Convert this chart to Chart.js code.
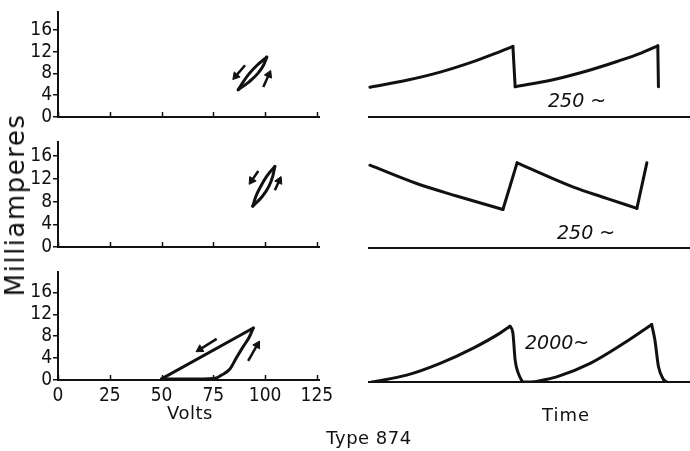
<!DOCTYPE html>
<html><head><meta charset="utf-8">
<script src="https://cdn.jsdelivr.net/npm/chart.js@4"></script>
<style>
html,body{margin:0;padding:0;background:#fff;}
#wrap{position:relative;width:690px;height:451px;overflow:hidden;background:#fff;}
canvas{position:absolute;}
.t{position:absolute;font-family:"DejaVu Sans",sans-serif;color:#111;white-space:nowrap;line-height:1;transform:translate(-50%,-50%);}
.f{position:absolute;font-family:"DejaVu Sans",sans-serif;font-style:italic;color:#111;white-space:nowrap;line-height:1;transform:translateY(-50%);font-size:19px;}
</style></head><body>
<div id="wrap"></div>
<script>
// ---- tick labels / text ----
const voltTicks = [0, 25, 50, 75, 100, 125];
const mATicks = [0, 4, 8, 12, 16];
const freqLabels = ['250 ~', '250 ~', '2000~'];

// ---- left column: current (mA) vs volts, hysteresis loops ----
// each loop as two branches, both listed with rising volts
const loop1UpV   = [87.0, 92.4, 96.5, 99.2, 100.8];   // rising branch (right)
const loop1UpMA  = [5.0, 6.5, 8.0, 9.5, 11.0];
const loop1DnV   = [87.0, 89.5, 92.4, 96.1, 100.8];   // falling branch (left)
const loop1DnMA  = [5.0, 6.5, 8.0, 9.5, 11.0];
const loop2UpV   = [94.0, 98.6, 101.8, 103.7, 104.7];
const loop2UpMA  = [7.2, 8.9, 10.7, 12.5, 14.2];
const loop2DnV   = [94.0, 95.5, 97.9, 100.8, 104.7];
const loop2DnMA  = [7.2, 8.9, 10.7, 12.5, 14.2];
const loop3UpV   = [50, 60, 70, 75.8, 79, 83, 86.2, 89.4, 92.3, 94.3];
const loop3UpMA  = [0.2, 0.2, 0.2, 0.3, 0.9, 2.0, 4.1, 6.1, 7.8, 9.5];
const loop3DnV   = [50, 94.3];
const loop3DnMA  = [0.2, 9.5];
// direction arrows: [fromV, fromMA, toV, toMA]
const arrows1 = [[90.3, 9.5, 85.8, 7.5], [99.1, 5.5, 101.8, 7.8]];
const arrows2 = [[96.7, 13.4, 93.5, 11.7], [104.7, 10.0, 106.8, 11.7]];
const arrows3 = [[76.6, 7.5, 68.5, 5.6], [91.8, 3.5, 96.2, 6.4]];

// ---- right column: current (mA) vs time (arbitrary units) ----
const wave1T  = [0.6, 12, 22.4, 32.7, 40, 45, 45.7, 57.1, 67.4, 77.8, 85, 90, 90.2];
const wave1mA = [5.1, 6.3, 7.7, 9.5, 11.0, 12.1, 5.2, 6.35, 7.8, 9.6, 11.0, 12.2, 5.2];
const wave2T  = [0.6, 15.1, 27.5, 41.9, 46.3, 63.8, 74.1, 83.5, 86.6];
const wave2mA = [14.0, 10.9, 8.8, 6.5, 14.4, 10.3, 8.4, 6.7, 14.4];
const wave3T  = [1.2, 12, 22.4, 32.7, 41, 44.1, 45, 45.7, 46.7, 48, 51.3, 58.6, 69, 79.3, 88.1, 89.1, 90.2, 91.7, 92.8];
const wave3mA = [0, 1.2, 3.25, 5.9, 8.5, 9.7, 8.5, 3.8, 1.5, 0, 0, 0.9, 3.25, 6.7, 10.0, 7.3, 2.7, 0.5, 0];

const INK = '#111';
const pts = (xs, ys) => xs.map((x, i) => ({x: x, y: ys[i]}));

// split a trace into runs that are monotone in y (shared end points)
function runs(xs, ys) {
  const out = []; let cur = [{x: xs[0], y: ys[0]}]; let sign = 0;
  for (let i = 1; i < xs.length; i++) {
    const s = Math.sign(ys[i] - ys[i - 1]);
    if (cur.length > 1 && s !== sign) { out.push(cur); cur = [{x: xs[i - 1], y: ys[i - 1]}]; }
    sign = s; cur.push({x: xs[i], y: ys[i]});
  }
  out.push(cur);
  return out;
}
function lineDs(data) {
  return {data: data, borderColor: INK, borderWidth: 3, pointRadius: 0, fill: false,
          cubicInterpolationMode: 'monotone', borderCapStyle: 'round', borderJoinStyle: 'round'};
}
function traceDs(xs, ys) { return runs(xs, ys).map(lineDs); }
function arrowDs(a) {
  return {
    data: [{x: a[0], y: a[1]}, {x: a[2], y: a[3]}],
    borderColor: INK, borderWidth: 2.5, fill: false, tension: 0,
    pointStyle: 'triangle', pointBackgroundColor: INK, pointBorderColor: INK, pointBorderWidth: 1,
    pointRadius: c => c.dataIndex === 1 ? 4.5 : 0,
    rotation: c => {
      try {
        const d = c.dataset.data, xs = c.chart.scales.x, ys = c.chart.scales.y;
        const dx = xs.getPixelForValue(d[1].x) - xs.getPixelForValue(d[0].x);
        const dy = ys.getPixelForValue(d[1].y) - ys.getPixelForValue(d[0].y);
        return Math.atan2(dx, -dy) * 180 / Math.PI;
      } catch (e) { return 0; }
    }
  };
}

// tick marks on the x axis that point up into the plot, as in the original
const innerTicks = {
  id: 'innerTicks',
  afterDraw(chart) {
    const s = chart.scales.x; if (!s || !chart.options.innerTicks) return;
    const ctx = chart.ctx; ctx.save();
    ctx.strokeStyle = INK; ctx.lineWidth = 1.5;
    s.ticks.forEach(t => {
      const px = Math.round(s.getPixelForValue(t.value)) + 0.5;
      ctx.beginPath(); ctx.moveTo(px, s.top); ctx.lineTo(px, s.top - 5); ctx.stroke();
    });
    ctx.restore();
  }
};

const wrap = document.getElementById('wrap');
function mkCanvas(left, top, w, h) {
  const c = document.createElement('canvas');
  c.width = w; c.height = h;
  c.style.left = left + 'px'; c.style.top = top + 'px';
  c.style.width = w + 'px'; c.style.height = h + 'px';
  wrap.appendChild(c);
  return c;
}
function addText(cls, txt, x, y, style) {
  const d = document.createElement('div');
  d.className = cls; d.textContent = txt;
  d.style.left = x + 'px'; d.style.top = y + 'px';
  if (style) Object.assign(d.style, style);
  wrap.appendChild(d);
}

const tickFont = {family: '"Liberation Sans Narrow","DejaVu Sans Condensed","Liberation Sans",sans-serif', size: 19};

function leftChart(top, h, padTop, axisH, ymax, datasets, showXLabels) {
  const cv = mkCanvas(0, top, 340, h);
  return new Chart(cv, {
    type: 'line',
    data: {datasets: datasets},
    plugins: [innerTicks],
    options: {
      innerTicks: true,
      responsive: false, animation: false, events: [],
      layout: {padding: {top: padTop, right: 21, left: 0, bottom: 0}},
      plugins: {legend: {display: false}, tooltip: {enabled: false}},
      scales: {
        x: {type: 'linear', min: voltTicks[0], max: 126,
            afterBuildTicks: s => { s.ticks = voltTicks.map(v => ({value: v})); },
            afterFit: s => { s.height = axisH; },
            grid: {drawOnChartArea: false, drawTicks: false},
            border: {display: true, color: INK, width: 2},
            ticks: {display: showXLabels, color: INK, font: tickFont, padding: 5, maxRotation: 0, autoSkip: false}},
        y: {type: 'linear', min: 0, max: ymax,
            afterBuildTicks: s => { s.ticks = mATicks.map(v => ({value: v})); },
            afterFit: s => { s.width = 58; },
            grid: {drawOnChartArea: false, drawTicks: true, tickLength: 5, color: INK, lineWidth: 1.5},
            border: {display: true, color: INK, width: 2},
            ticks: {color: INK, font: tickFont, padding: 1, autoSkip: false}}
      }
    }
  });
}
function rightChart(top, h, padTop, axisH, ymax, datasets) {
  const cv = mkCanvas(368, top, 322, h);
  return new Chart(cv, {
    type: 'line',
    data: {datasets: datasets},
    options: {
      responsive: false, animation: false, events: [],
      layout: {padding: {top: padTop, right: 0, left: 0, bottom: 0}},
      plugins: {legend: {display: false}, tooltip: {enabled: false}},
      scales: {
        x: {type: 'linear', min: 0, max: 100,
            afterFit: s => { s.height = axisH; },
            grid: {display: true, drawOnChartArea: false, drawTicks: false},
            border: {display: true, color: INK, width: 2},
            ticks: {display: false}},
        y: {type: 'linear', display: false, min: 0, max: ymax}
      }
    }
  });
}

// Row 1
leftChart(0, 130, 5, 13, 19.2,
  [lineDs(pts(loop1UpV, loop1UpMA)), lineDs(pts(loop1DnV, loop1DnMA))].concat(arrows1.map(arrowDs)), false);
rightChart(0, 130, 5, 13, 19.2, traceDs(wave1T, wave1mA));
// Row 2
leftChart(130, 130, 8, 13, 18.44,
  [lineDs(pts(loop2UpV, loop2UpMA)), lineDs(pts(loop2DnV, loop2DnMA))].concat(arrows2.map(arrowDs)), false);
rightChart(130, 130, 8, 12, 18.6, traceDs(wave2T, wave2mA));
// Row 3
leftChart(260, 165, 7, 45, 19.65,
  [lineDs(pts(loop3UpV, loop3UpMA)), lineDs(pts(loop3DnV, loop3DnMA))].concat(arrows3.map(arrowDs)), true);
rightChart(260, 165, 9, 43, 19.65, traceDs(wave3T, wave3mA));

// Text
addText('t', 'Milliamperes', 15, 205, {transform: 'translate(-50%,-50%) rotate(-90deg)', fontSize: '26px', letterSpacing: '1.5px'});
addText('t', 'Volts', 190, 413, {fontSize: '18px', letterSpacing: '0.5px'});
addText('t', 'Time', 566, 415, {fontSize: '18px', letterSpacing: '1px'});
addText('t', 'Type 874', 369, 438, {fontSize: '18px', letterSpacing: '0.5px'});
addText('f', freqLabels[0], 548, 100);
addText('f', freqLabels[1], 557, 232);
addText('f', freqLabels[2], 525, 342);
</script>
</body></html>
